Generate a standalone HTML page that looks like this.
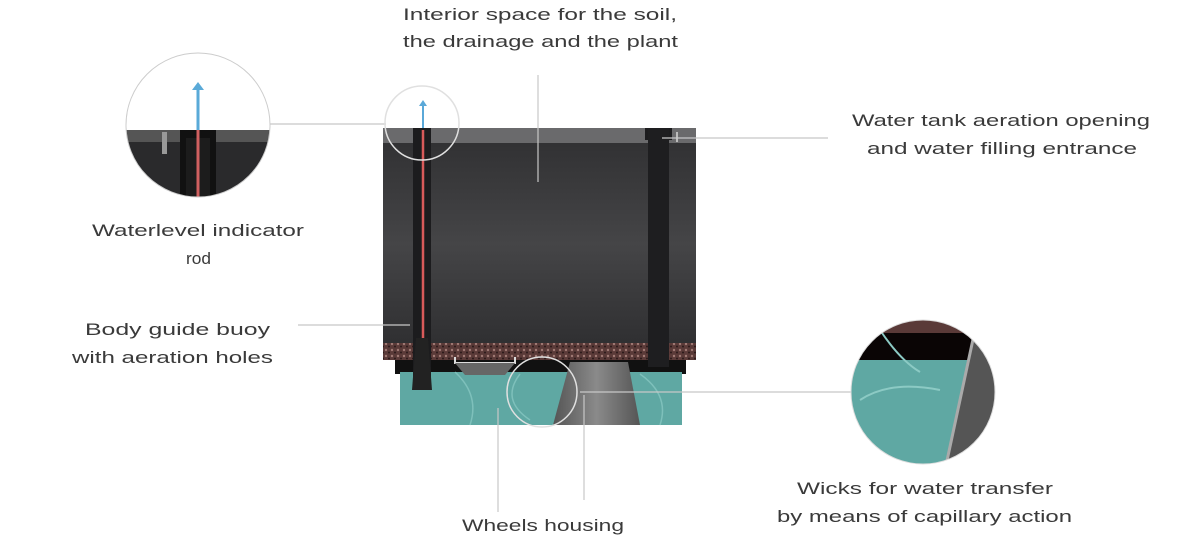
<!DOCTYPE html>
<html><head><meta charset="utf-8"><style>
html,body{margin:0;padding:0;background:#fff;}
svg{display:block;}
text{font-family:"Liberation Sans","DejaVu Sans",sans-serif;font-size:17px;fill:#3a3a3a;}
</style></head><body>
<svg width="1200" height="540" viewBox="0 0 1200 540" xmlns="http://www.w3.org/2000/svg">
<defs>
<linearGradient id="body" x1="0" y1="0" x2="0" y2="1">
<stop offset="0" stop-color="#2f2f31"/><stop offset="0.5" stop-color="#454547"/><stop offset="1" stop-color="#2c2c2e"/>
</linearGradient>
<linearGradient id="trap" x1="0" y1="0" x2="1" y2="0">
<stop offset="0" stop-color="#555"/><stop offset="0.5" stop-color="#8a8a8a"/><stop offset="1" stop-color="#555"/>
</linearGradient>
<pattern id="grav" width="6" height="6" patternUnits="userSpaceOnUse">
<rect width="6" height="6" fill="#5a3a38"/><circle cx="2" cy="2" r="1.2" fill="#a07a74"/><circle cx="5" cy="4.5" r="1" fill="#2a1a1a"/>
</pattern>
<clipPath id="cl1"><circle cx="198" cy="125" r="72"/></clipPath>
<clipPath id="cl2"><circle cx="923" cy="392" r="72"/></clipPath>
</defs>

<!-- planter -->
<rect x="383" y="128" width="313" height="232" fill="url(#body)"/>
<rect x="383" y="128" width="313" height="15" fill="#6a6a6c"/>
<rect x="383" y="343" width="313" height="17" fill="url(#grav)"/>
<rect x="395" y="360" width="291" height="14" fill="#111"/>
<rect x="400" y="372" width="282" height="53" fill="#5fa8a3"/>
<path d="M455 372 Q480 395 470 425 M520 374 Q500 400 530 420 M640 374 Q670 395 660 425" stroke="#8ccac4" stroke-width="1.5" fill="none" opacity="0.7"/>
<path d="M455 357 v6 h60 v-6" stroke="#ddd" stroke-width="2" fill="none"/>
<path d="M455 363 h60 l-10 12 h-40 z" fill="#666"/>
<path d="M570 362 L628 362 L640 425 L553 425 Z" fill="url(#trap)"/>
<!-- left rod -->
<rect x="413" y="128" width="18" height="262" fill="#1c1c1e"/>
<path d="M416 338 L428 338 L432 390 L412 390 Z" fill="#222"/>
<line x1="423" y1="130" x2="423" y2="338" stroke="#d85a5a" stroke-width="2.5"/>
<line x1="423" y1="128" x2="423" y2="104" stroke="#5aa8d8" stroke-width="2"/>
<path d="M419 106 L423 100 L427 106 Z" fill="#5aa8d8"/>
<!-- right rod -->
<rect x="645" y="128" width="27" height="12" fill="#1c1c1e"/>
<rect x="648" y="128" width="21" height="239" fill="#1e1e20"/>
<rect x="676" y="132" width="2" height="10" fill="#bbb"/>

<!-- connector lines -->
<g stroke="#c8c8c8" stroke-width="1.2" fill="none">
<line x1="270" y1="124" x2="386" y2="124"/>
<line x1="538" y1="75" x2="538" y2="182"/>
<line x1="662" y1="138" x2="828" y2="138"/>
<line x1="298" y1="325" x2="410" y2="325"/>
<line x1="580" y1="392" x2="852" y2="392"/>
<line x1="498" y1="408" x2="498" y2="512"/>
<line x1="584" y1="395" x2="584" y2="500"/>
</g>

<!-- small circles -->
<circle cx="422" cy="123" r="37" fill="none" stroke="#e0e0e0" stroke-width="1.5"/>
<circle cx="542" cy="392" r="35" fill="none" stroke="#e0e0e0" stroke-width="1.5"/>

<!-- left big circle -->
<g clip-path="url(#cl1)">
<rect x="120" y="50" width="160" height="80" fill="#fff"/>
<rect x="120" y="130" width="160" height="70" fill="#2a2a2c"/>
<rect x="120" y="130" width="160" height="12" fill="#555"/>
<rect x="162" y="132" width="5" height="22" fill="#999"/>
<rect x="180" y="130" width="36" height="70" fill="#111"/>
<rect x="186" y="138" width="24" height="62" fill="#1c1c1c"/>
<line x1="198" y1="130" x2="198" y2="200" stroke="#d06060" stroke-width="3"/>
<line x1="198" y1="130" x2="198" y2="88" stroke="#5aaad8" stroke-width="3"/>
<path d="M192 90 L198 82 L204 90 Z" fill="#5aaad8"/>
</g>
<circle cx="198" cy="125" r="72" fill="none" stroke="#ccc" stroke-width="1"/>

<!-- right big circle -->
<g clip-path="url(#cl2)">
<rect x="850" y="318" width="150" height="150" fill="#5fa8a3"/>
<rect x="850" y="318" width="150" height="15" fill="#5a3a38"/>
<rect x="850" y="333" width="150" height="27" fill="#0a0505"/>
<path d="M975 330 L1000 330 L1000 470 L945 470 Z" fill="#555"/>
<path d="M975 330 L945 470" stroke="#aaa" stroke-width="3"/>
<path d="M880 330 Q900 360 920 372 M860 400 Q890 380 940 390" stroke="#8ccac4" stroke-width="2" fill="none"/>
</g>
<circle cx="923" cy="392" r="72" fill="none" stroke="#ddd" stroke-width="1"/>

<!-- labels -->
<text x="403" y="20" textLength="274" lengthAdjust="spacingAndGlyphs">Interior space for the soil,</text>
<text x="403" y="47" textLength="275" lengthAdjust="spacingAndGlyphs">the drainage and the plant</text>
<text x="852" y="126" textLength="298" lengthAdjust="spacingAndGlyphs">Water tank aeration opening</text>
<text x="867" y="154" textLength="270" lengthAdjust="spacingAndGlyphs">and water filling entrance</text>
<text x="92" y="236" textLength="212" lengthAdjust="spacingAndGlyphs">Waterlevel indicator</text>
<text x="186" y="264" textLength="25" lengthAdjust="spacingAndGlyphs">rod</text>
<text x="85" y="335" textLength="185" lengthAdjust="spacingAndGlyphs">Body guide buoy</text>
<text x="72" y="363" textLength="201" lengthAdjust="spacingAndGlyphs">with aeration holes</text>
<text x="797" y="494" textLength="256" lengthAdjust="spacingAndGlyphs">Wicks for water transfer</text>
<text x="777" y="522" textLength="295" lengthAdjust="spacingAndGlyphs">by means of capillary action</text>
<text x="462" y="531" textLength="162" lengthAdjust="spacingAndGlyphs">Wheels housing</text>
</svg>
</body></html>
